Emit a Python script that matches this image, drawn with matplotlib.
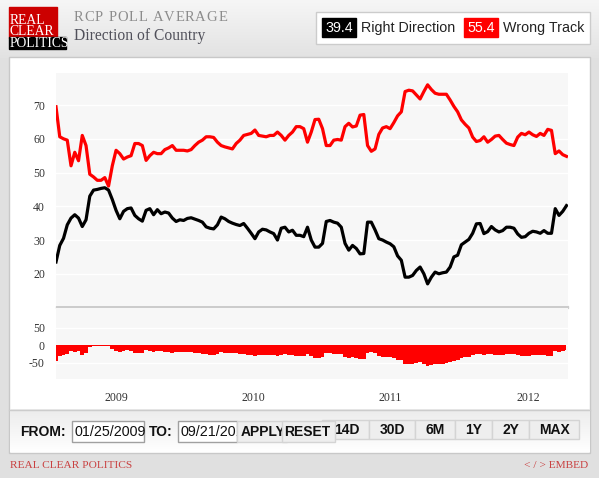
import numpy as np
import pandas as pd
import matplotlib as mpl
mpl.use('Agg')
import matplotlib.pyplot as plt
from matplotlib.patches import Rectangle

W, H = 599, 478

# RCP average, one reading every 10 days from the FROM date
start = '2009-01-25'
right_direction = [
    23.5, 28.4, 30.5, 34.5, 36.5, 37.5, 36.5, 34.0, 36.0, 43.0, 44.8, 45.0,
    45.3, 45.5, 44.8, 42.0, 38.8, 36.3, 38.5, 39.3, 39.5, 37.3, 36.3, 35.6,
    38.8, 39.3, 37.5, 39.0, 37.8, 38.3, 38.0, 36.5, 35.5, 36.0, 35.8, 36.4,
    36.6, 36.2, 35.8, 35.3, 33.9, 33.5, 33.3, 34.5, 36.8, 36.3, 35.5, 35.0,
    34.6, 34.3, 34.9, 33.5, 32.0, 30.4, 32.4, 33.2, 33.0, 32.4, 31.9, 30.0,
    33.5, 33.8, 32.4, 32.9, 31.4, 31.4, 31.0, 33.8, 30.0, 27.9, 27.9,
    29.0, 35.5, 35.8, 35.3, 35.0, 33.8, 29.0, 27.0, 28.4, 27.5, 25.9, 26.0,
    35.3, 35.3, 33.0, 30.4, 30.0, 29.4, 28.9, 28.0, 25.3, 24.0, 19.0, 19.0,
    19.5, 21.0, 22.0, 20.0, 17.0, 19.0, 20.5, 20.0, 20.3, 20.5, 22.0,
    25.0, 25.5, 28.6, 29.4, 30.2, 32.0, 34.8, 34.9, 31.9, 32.5, 34.0, 33.0,
    32.4, 32.8, 33.8, 33.8, 33.5, 31.8, 30.8, 31.0, 32.0, 32.6, 32.4, 32.0,
    32.8, 32.0, 32.0, 39.3, 37.3, 38.5, 40.2]
wrong_track = [
    69.5, 60.6, 60.0, 59.6, 52.0, 56.0, 53.5, 61.0, 58.0, 49.5, 48.7, 47.7,
    47.7, 48.5, 46.0, 52.0, 56.6, 55.6, 54.0, 54.6, 55.0, 58.6, 58.6, 58.0,
    53.6, 55.0, 56.0, 55.6, 55.6, 56.8, 57.3, 58.0, 56.6, 56.6, 56.6, 56.4,
    56.8, 58.0, 59.0, 59.6, 60.6, 60.6, 60.4, 59.0, 58.0, 57.6, 57.3, 57.0,
    58.6, 59.6, 61.0, 61.3, 61.6, 62.6, 61.0, 60.8, 60.6, 61.0, 61.0, 62.0,
    61.0, 59.6, 61.0, 62.0, 63.6, 63.6, 63.0, 59.0, 62.0, 65.7, 65.8,
    63.0, 58.0, 58.0, 59.6, 59.8, 59.6, 63.6, 64.6, 63.5, 63.8, 67.0, 67.2,
    58.0, 56.3, 57.0, 61.3, 63.2, 63.6, 63.0, 64.8, 66.8, 68.0, 74.0, 74.4,
    74.2, 73.0, 71.8, 74.0, 76.0, 74.6, 73.5, 73.2, 73.2, 73.2, 71.5,
    69.6, 68.0, 65.6, 64.3, 63.2, 60.5, 59.2, 59.5, 60.6, 59.0, 59.8, 60.8,
    61.0, 59.8, 58.7, 58.3, 58.0, 60.5, 61.6, 61.2, 62.0, 61.2, 60.7, 61.6,
    61.0, 62.8, 62.5, 55.6, 56.4, 55.3, 54.8]
dates = pd.date_range(start, periods=len(right_direction), freq='10D')
spread = np.array(right_direction) - np.array(wrong_track)

years = [2009, 2010, 2011, 2012]
main_ticks = [20, 30, 40, 50, 60, 70]
spread_ticks = [-50, 0, 50]
latest_right, latest_wrong = 39.4, 55.4
from_date, to_date = '01/25/2009', '09/21/2012'
range_buttons = ['14D', '30D', '6M', '1Y', '2Y', 'MAX']

SERIF = 'Liberation Serif'
SANS = 'Liberation Sans'

fig = plt.figure(figsize=(W / 100, H / 100), dpi=100)
fig.patch.set_facecolor('#e0e0e0')
bg = fig.add_axes([0, 0, 1, 1])
bg.axis('off')
bg.set_xlim(0, W)
bg.set_ylim(H, 0)


def vgrad(y0, y1, x0, x1, c0, c1, z=0):
    a = np.array(mpl.colors.to_rgb(c0))
    b = np.array(mpl.colors.to_rgb(c1))
    t = np.linspace(0, 1, 64)[:, None, None]
    bg.imshow(a + (b - a) * t, extent=(x0, x1, y1, y0), aspect='auto',
              interpolation='bilinear', zorder=z)


def spaced_text(x, y, s, gap, **kw):
    # letter-spaced text, one glyph at a time
    r = fig.canvas.get_renderer()
    for ch in s:
        if ch == ' ':
            x += 3.6 + gap
            continue
        t = bg.text(x, y, ch, **kw)
        x += t.get_window_extent(r).width + gap


def px_axes(x0, y0, x1, y1):
    return fig.add_axes([x0 / W, 1 - y1 / H, (x1 - x0) / W, (y1 - y0) / H])


# page background + header gradient
bg.add_patch(Rectangle((0, 0), W, H, color='#e0e0e0', zorder=-1))
vgrad(0, 58, 0, W, '#f6f6f6', '#e2e2e2')

# logo
bg.add_patch(Rectangle((9, 7.3), 47.7, 31, color='#cc0000', zorder=2))
bg.add_patch(Rectangle((9, 37.3), 56.7, 11.4, color='black', zorder=2))
for txt, y in [('REAL', 20), ('CLEAR', 31.5), ('POLITICS', 43.5)]:
    bg.text(9.8, y, txt, color='white', family=SERIF, fontsize=9.8,
            va='center', ha='left', zorder=3)

spaced_text(74, 17.5, 'RCP POLL AVERAGE', 0.8, color='#8c8c8c',
            family=SERIF, fontsize=10.5, va='center')
bg.text(74, 36, 'Direction of Country', color='#50505a', family=SERIF,
        fontsize=11.2, va='center')

# legend box
bg.add_patch(Rectangle((315.5, 11.7), 274.5, 32.6, fc='white', ec='#cccccc',
                       lw=1, zorder=2))
bg.add_patch(Rectangle((322, 18.3), 34, 19, color='black', zorder=3))
bg.text(339, 28, f'{latest_right}', color='white', family=SANS, fontsize=10.3,
        ha='center', va='center', zorder=4)
bg.text(361, 28, 'Right Direction', color='#222222', family=SANS,
        fontsize=10.3, va='center', zorder=4)
bg.add_patch(Rectangle((464, 18.3), 34, 19, color='#ff0000', zorder=3))
bg.text(481, 28, f'{latest_wrong}', color='white', family=SANS, fontsize=10.3,
        ha='center', va='center', zorder=4)
bg.text(503, 28, 'Wrong Track', color='#222222', family=SANS,
        fontsize=10.3, va='center', zorder=4)

# white panel, control bar
bg.add_patch(Rectangle((9, 57.3), 581, 395.7, fc='white', ec='#c8c8c8',
                       lw=1, zorder=1))
vgrad(409.5, 452.5, 9.5, 589.5, '#ececec', '#ffffff', z=1.5)
bg.plot([9, 590], [409.5, 409.5], color='#cccccc', lw=1, zorder=2)
bg.add_patch(Rectangle((56, 305.5), 512, 2.6, color='#cccccc', zorder=2))

# controls
bold = dict(family=SANS, fontsize=10, fontweight='bold', color='#111111',
            va='center')
bg.text(20.5, 431.5, 'FROM:', **bold)
bg.text(149, 431.5, 'TO:', **bold)
for x0, w, txt in [(71.7, 72.6, from_date), (178, 59, to_date)]:
    box = Rectangle((x0, 420.7), w, 21, fc='white', ec='#a0a0a0', lw=1,
                    zorder=3)
    bg.add_patch(box)
    t = bg.text(x0 + 2.8, 431.5, txt, family=SANS, fontsize=10.3,
                color='#111111', va='center', zorder=4)
    t.set_clip_path(box)

edges = [322, 369, 415, 455, 492, 529, 579]
for i, lab in enumerate(range_buttons):
    x0, x1 = edges[i], edges[i + 1]
    bg.add_patch(Rectangle((x0, 420), x1 - x0, 19.3, fc='#eeeeee',
                           ec='#d4d4d4', lw=1, zorder=3))
    cx = 347 if i == 0 else (x0 + x1) / 2
    bg.text(cx, 430, lab, ha='center', zorder=4, **bold)

bg.add_patch(Rectangle((237, 420.7), 50, 21, fc='#eeeeee', ec='#d4d4d4',
                       lw=1, zorder=5))
apply_box = Rectangle((237, 420.7), 45, 21, fc='none', ec='none')
bg.add_patch(apply_box)
t = bg.text(240.7, 431.5, 'APPLY', zorder=6, **bold)
t.set_clip_path(apply_box)
bg.add_patch(Rectangle((282, 420.7), 53, 21, fc='#eeeeee', ec='#d4d4d4',
                       lw=1, zorder=7))
bg.text(307.5, 431.5, 'RESET', ha='center', zorder=8, **bold)

# footer
bg.text(10, 466, 'REAL CLEAR POLITICS', family=SERIF, fontsize=8.2,
        color='#c94040', va='center')
bg.text(588, 466, '< / > EMBED', family=SERIF, fontsize=8.2,
        color='#c94040', va='center', ha='right')

bg.set_xlim(0, W)
bg.set_ylim(H, 0)

xlim = (dates[0], dates[0] + pd.Timedelta(days=1364))
year_pos = [pd.Timestamp(y, 7, 5) for y in years]
tick_style = dict(family=SERIF, fontsize=8.5, color='#333333')

# main chart
ax = px_axes(56, 73, 568, 305.5)
ax.set_facecolor('#f7f7f7')
for v in main_ticks:
    ax.axhline(v, color='white', lw=1, zorder=1)
ax.plot(dates, wrong_track, color='#ff0000', lw=2.3, zorder=3)
ax.plot(dates, right_direction, color='black', lw=2.3, zorder=3)
ax.set_xlim(*xlim)
ax.set_ylim(10.6, 79.5)
ax.set_xticks([])
ax.set_yticks(main_ticks)
ax.set_yticklabels([str(v) for v in main_ticks], **tick_style)
ax.tick_params(axis='y', length=0, pad=8)
for s in ax.spines.values():
    s.set_visible(False)

# spread chart
ax2 = px_axes(56, 308.1, 568, 379.3)
ax2.set_facecolor('#f7f7f7')
for v in spread_ticks:
    ax2.axhline(v, color='white', lw=1, zorder=1)
ax2.fill_between(dates, spread, 0, step='mid', color='#ff0000', lw=0,
                 zorder=2)
ax2.set_xlim(*xlim)
ax2.set_ylim(-98, 106)
ax2.set_yticks(spread_ticks)
ax2.set_yticklabels([str(v) for v in spread_ticks], **tick_style)
ax2.set_xticks(year_pos)
ax2.set_xticklabels([str(y) for y in years], **tick_style)
ax2.tick_params(length=0)
ax2.tick_params(axis='y', pad=8)
ax2.tick_params(axis='x', pad=9)
for s in ax2.spines.values():
    s.set_visible(False)

plt.savefig('out.png', dpi=100)
